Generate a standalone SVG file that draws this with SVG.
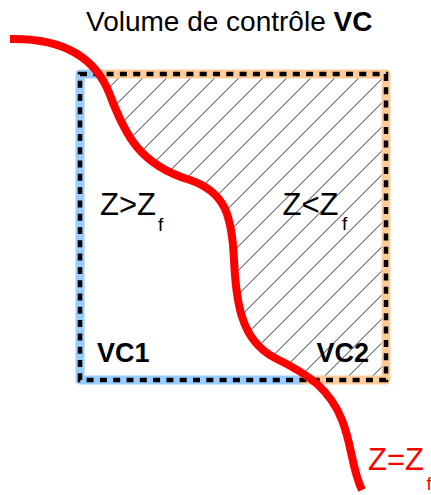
<svg xmlns="http://www.w3.org/2000/svg" width="431" height="495" viewBox="0 0 431 495">
<style>
text{font-family:"Liberation Sans",Arial,sans-serif;}
.t{font-size:28px;fill:#000;}
.z{font-size:31px;fill:#000;}
.sub{font-size:19px;}
.vc{font-size:27px;font-weight:bold;fill:#000;}
.blue{fill:none;stroke:#99CCFF;stroke-width:9;stroke-linejoin:round;stroke-linecap:round;}
.orange{fill:none;stroke:#FFCC99;stroke-width:9;stroke-linejoin:round;stroke-linecap:round;}
.dash{fill:none;stroke:#000;stroke-width:4.5;stroke-dasharray:7 6.3;}
.curve{fill:none;stroke:#FF0000;stroke-width:8;}
</style>
<defs>
<pattern id="hatch" patternUnits="userSpaceOnUse" x="4.7" y="0" width="24" height="24">
<path d="M-1,25 L25,-1 M-7,7 L7,-7 M17,31 L31,17" stroke="#333" stroke-width="1"/>
</pattern>
<clipPath id="right">
<path d="M10,39 C60,38 95,55 110,95 C125,135 140,165 190,180 C225,192 232,215 234,260 C236,300 240,340 275,358 C310,375 330,390 342,420 C352,445 352,470 362,490 L431,495 L431,0 L10,0 Z"/>
</clipPath>
</defs>
<g id="title">
<text class="t" x="86" y="31">Volume de contrôle <tspan font-weight="bold">VC</tspan></text>
</g>
<g id="vc2-hatch" clip-path="url(#right)">
<rect x="80" y="74" width="306" height="306" fill="url(#hatch)"/>
</g>
<g id="vc1">
<path class="blue" d="M102,74 L80,74 L80,380 L303,380"/>
</g>
<g id="vc2">
<path class="orange" d="M102,74 L386,74 L386,380 L303,380"/>
</g>
<g id="vc">
<path class="dash" d="M80,74 H386 V380 H80 Z"/>
</g>
<g id="connectors">
<path id="interface" class="curve" d="M10,39 C60,38 95,55 110,95 C125,135 140,165 190,180 C225,192 232,215 234,260 C236,300 240,340 275,358 C310,375 330,390 342,420 C352,445 352,470 362,490"/>
</g>
<g id="labels">
<text class="z" x="100" y="215">Z&gt;Z<tspan class="sub" x="158" y="231">f</tspan></text>
<text class="z" x="282.5" y="215">Z&lt;Z<tspan class="sub" x="342" y="230">f</tspan></text>
<text class="vc" x="97" y="362">VC1</text>
<text class="vc" x="316.5" y="362">VC2</text>
<text class="z" x="368" y="470" fill="#FF0000" style="fill:#FF0000">Z=Z<tspan class="sub" x="426.5" y="490">f</tspan></text>
</g>
</svg>
